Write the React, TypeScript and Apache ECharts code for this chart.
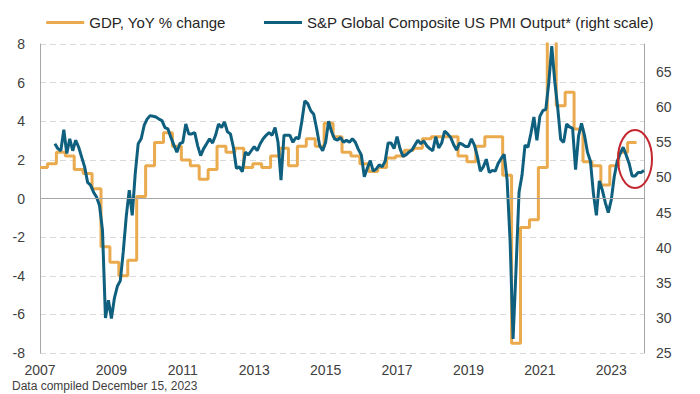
import React, { useEffect, useRef } from "react";
import * as echarts from "echarts";

// ---- Data ----
const START_YEAR = 2007;
const END_YEAR = 2023;

// Category labels: monthly, Jan 2007 .. Dec 2023
const months: string[] = [];
for (let y = START_YEAR; y <= END_YEAR; y++) {
  for (let m = 1; m <= 12; m++) months.push(`${y}-${String(m).padStart(2, "0")}`);
}

// Year tick labels shown on the x axis
const yearTicks = ["2007", "2009", "2011", "2013", "2015", "2017", "2019", "2021", "2023"];

// US real GDP, YoY % change, quarterly from 2007 Q1 to 2023 Q3
const gdpYoY = [
  1.6, 1.8, 2.4, 2.2, // 2007
  1.5, 1.3, 0.5, -2.5, // 2008
  -3.3, -4.0, -3.2, 0.1, // 2009
  1.7, 2.9, 3.4, 2.7, // 2010
  2.0, 1.7, 1.0, 1.5, // 2011
  2.7, 2.4, 2.6, 1.6, // 2012
  1.8, 1.6, 2.2, 2.6, // 2013
  1.7, 2.7, 3.1, 2.7, // 2014
  3.9, 3.2, 2.4, 2.2, // 2015
  1.8, 1.4, 1.6, 2.1, // 2016
  2.2, 2.5, 2.6, 3.1, // 2017
  3.2, 3.2, 3.2, 2.2, // 2018
  1.9, 2.7, 3.2, 3.2, // 2019
  1.2, -7.5, -1.5, -1.1, // 2020
  1.6, 12.0, 4.8, 5.5, // 2021
  3.6, 1.9, 1.7, 0.7, // 2022
  1.7, 2.4, 2.9, // 2023
];

// S&P Global Composite US PMI Output, monthly (right scale)
const pmi2007 = [null, null, null, null, null, 54.8, 54.1, 53.8, 56.8, 53.4, 55.5, 53.8];
const pmi2008 = [55.3, 54.3, 52.9, 51.5, 49.3, 48.9, 47.9, 47.2, 46.0, 42.5, 30.0, 32.5];
const pmi2009 = [29.9, 32.8, 34.5, 35.3, 39.5, 44.5, 48.2, 44.6, 50.5, 54.8, 55.5, 57.4];
const pmi2010 = [58.3, 58.8, 58.7, 58.6, 58.3, 58.1, 57.1, 56.9, 55.7, 54.6, 53.6, 54.8];
const pmi2011 = [55.0, 57.6, 56.2, 56.2, 56.4, 54.5, 53.1, 54.1, 54.8, 55.5, 54.9, 56.0];
const pmi2012 = [57.6, 57.1, 57.9, 56.5, 56.2, 54.3, 51.3, 51.5, 50.8, 53.6, 53.2, 53.8];
const pmi2013 = [54.4, 53.8, 54.8, 55.5, 56.0, 56.4, 56.0, 57.1, 55.0, 49.6, 56.0, 56.0];
const pmi2014 = [56.0, 55.0, 55.7, 55.5, 58.0, 60.9, 60.5, 59.5, 59.0, 56.9, 54.5, 53.8];
const pmi2015 = [55.0, 58.0, 56.5, 55.5, 55.3, 55.7, 55.0, 55.3, 55.0, 55.5, 55.0, 54.0];
const pmi2016 = [53.2, 50.1, 51.3, 52.4, 50.9, 51.2, 51.8, 51.5, 52.3, 54.9, 54.9, 54.1];
const pmi2017 = [55.8, 54.1, 53.0, 53.2, 53.6, 53.9, 54.6, 55.3, 54.8, 55.2, 54.5, 54.1];
const pmi2018 = [53.8, 55.8, 54.2, 54.9, 56.6, 56.2, 55.7, 54.7, 53.9, 54.9, 54.7, 54.4];
const pmi2019 = [54.4, 55.5, 54.6, 53.0, 50.9, 51.5, 52.6, 50.7, 51.0, 50.9, 52.0, 52.7];
const pmi2020 = [53.3, 49.6, 40.9, 27.0, 37.0, 47.9, 50.3, 54.6, 54.3, 56.3, 58.6, 55.3];
const pmi2021 = [58.7, 59.5, 59.7, 63.5, 68.7, 63.7, 59.9, 55.4, 55.0, 57.6, 57.2, 57.0];
const pmi2022 = [51.1, 55.9, 57.7, 56.0, 53.6, 52.3, 47.7, 44.6, 49.5, 48.2, 46.4, 45.0];
const pmi2023 = [46.8, 50.1, 52.3, 53.4, 54.3, 53.2, 52.0, 50.2, 50.2, 50.7, 50.7, 51.0];

const pmiOutput: (number | null)[] = [
  ...pmi2007, ...pmi2008, ...pmi2009, ...pmi2010, ...pmi2011, ...pmi2012,
  ...pmi2013, ...pmi2014, ...pmi2015, ...pmi2016, ...pmi2017, ...pmi2018,
  ...pmi2019, ...pmi2020, ...pmi2021, ...pmi2022, ...pmi2023,
];

// Quarterly GDP held across each quarter's three months
const gdpMonthly: (number | null)[] = months.map((_, i) => {
  const q = Math.floor(i / 3);
  return q < gdpYoY.length ? gdpYoY[q] : null;
});

const GDP_NAME = "GDP, YoY % change";
const PMI_NAME = "S&P Global Composite US PMI Output* (right scale)";
const ORANGE = "#EAAA4E";
const BLUE = "#0F5F7F";
const FONT = "'Liberation Sans', Arial, Helvetica, sans-serif";

export default function App() {
  const ref = useRef<HTMLDivElement>(null);

  useEffect(() => {
    if (!ref.current) return;
    const chart = echarts.init(ref.current, undefined, { renderer: "svg" });
    chart.setOption({
      animation: false,
      backgroundColor: "#ffffff",
      textStyle: { fontFamily: FONT },
      legend: {
        top: 10,
        left: "center",
        icon: "rect",
        itemWidth: 38,
        itemHeight: 3,
        itemGap: 38,
        textStyle: { fontSize: 15, color: "#262626", fontFamily: FONT },
        data: [GDP_NAME, PMI_NAME],
      },
      grid: { left: 40, right: 56, top: 44, bottom: 41 },
      xAxis: {
        type: "category",
        data: months,
        boundaryGap: false,
        axisLine: { show: false },
        axisTick: { show: false },
        splitLine: { show: false },
        axisLabel: {
          interval: (_i: number, v: string) => yearTicks.includes(v.slice(0, 4)) && v.endsWith("-01"),
          formatter: (v: string) => v.slice(0, 4),
          fontSize: 14,
          color: "#404040",
          margin: 10,
        },
      },
      yAxis: [
        {
          type: "value",
          min: -8,
          max: 8,
          interval: 2,
          position: "left",
          axisLine: { show: true, lineStyle: { color: "#a6a6a6", width: 1 } },
          axisTick: { show: false },
          axisLabel: { fontSize: 14, color: "#404040", margin: 15 },
          splitLine: { show: true, lineStyle: { color: "#d9d9d9", width: 1, type: [6, 4] } },
        },
        {
          type: "value",
          min: 25,
          max: 69,
          interval: 5,
          position: "right",
          axisLine: { show: true, lineStyle: { color: "#a6a6a6", width: 1 } },
          axisTick: { show: false },
          axisLabel: { fontSize: 14, color: "#404040", margin: 12, showMaxLabel: false },
          splitLine: { show: false },
        },
      ],
      series: [
        {
          name: "zero",
          type: "line",
          data: [],
          yAxisIndex: 0,
          z: 1,
          silent: true,
          markLine: {
            silent: true,
            symbol: ["none", "none"],
            label: { show: false },
            lineStyle: { color: "#a6a6a6", type: "solid", width: 1 },
            data: [{ yAxis: 0 }],
          },
        },
        {
          name: GDP_NAME,
          type: "line",
          data: gdpMonthly,
          yAxisIndex: 0,
          step: "middle",
          showSymbol: false,
          symbol: "none",
          z: 3,
          lineStyle: { color: ORANGE, width: 3 },
          itemStyle: { color: ORANGE },
        },
        {
          name: PMI_NAME,
          type: "line",
          data: pmiOutput,
          yAxisIndex: 1,
          showSymbol: false,
          symbol: "none",
          z: 4,
          lineStyle: { color: BLUE, width: 3 },
          itemStyle: { color: BLUE },
        },
      ],
      graphic: [
        {
          type: "ellipse",
          shape: { cx: 635, cy: 159, rx: 17, ry: 29 },
          style: { fill: "none", stroke: "#C4262E", lineWidth: 2 },
          z: 100,
        },
        {
          type: "text",
          left: 12,
          top: 380,
          style: {
            text: "Data compiled December 15, 2023",
            fontSize: 12,
            fill: "#404040",
            fontFamily: FONT,
          },
          z: 100,
        },
      ],
    });
    return () => chart.dispose();
  }, []);

  return (
    <div
      ref={ref}
      style={{ position: "fixed", left: 0, top: 0, width: 700, height: 394, background: "#fff" }}
    />
  );
}
